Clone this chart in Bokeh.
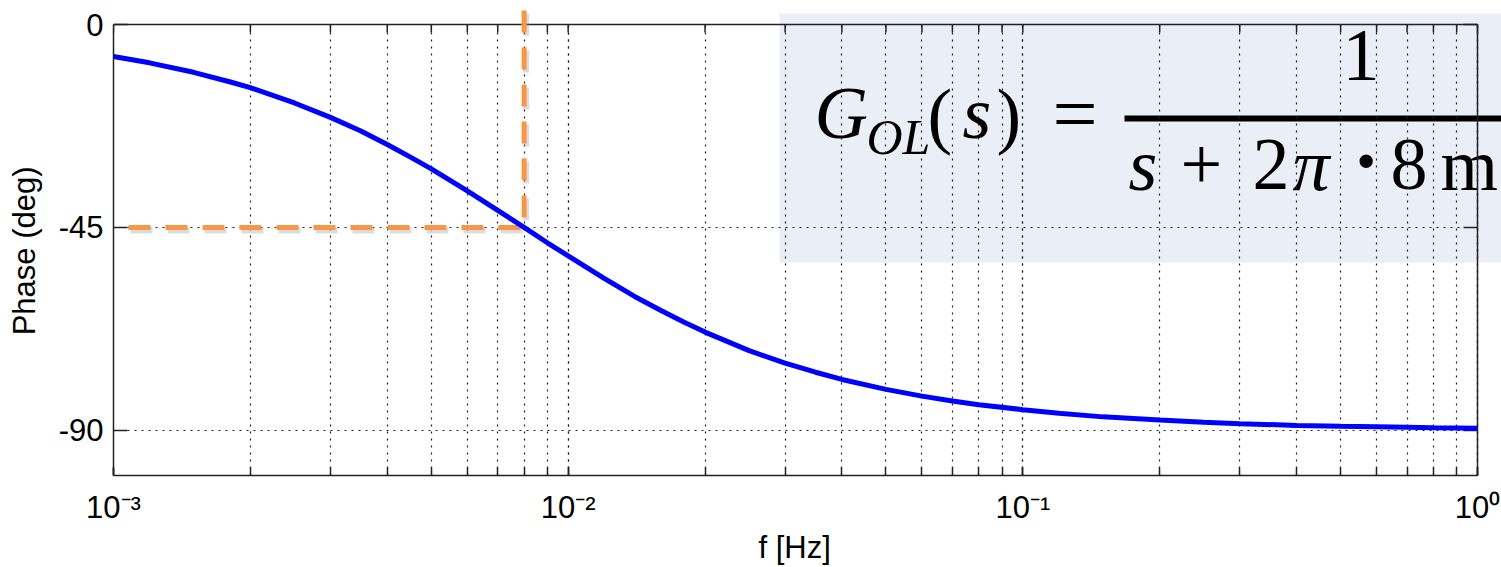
from bokeh.plotting import figure
from bokeh.models import (Range1d, FixedTicker, LogTicker, CustomJSTickFormatter,
                          BoxAnnotation, Label)
from bokeh.embed import file_html
from bokeh.resources import INLINE

# ---------------- data ----------------
freq_hz = [0.001, 0.0012, 0.0015, 0.0018, 0.002, 0.0025, 0.003, 0.0035, 0.004,
           0.0045, 0.005, 0.006, 0.007, 0.008, 0.009, 0.01, 0.012, 0.014, 0.016,
           0.018, 0.02, 0.025, 0.03, 0.035, 0.04, 0.05, 0.06, 0.07, 0.08, 0.1,
           0.12, 0.15, 0.2, 0.25, 0.3, 0.4, 0.5, 0.6, 0.7, 0.8, 1.0]
phase_deg = [-7.1, -8.5, -10.6, -12.7, -14.0, -17.4, -20.6, -23.6, -26.6,
             -29.4, -32.0, -36.9, -41.2, -45.0, -48.4, -51.3, -56.3, -60.3, -63.4,
             -66.0, -68.2, -72.3, -75.1, -77.1, -78.7, -80.9, -82.4, -83.5, -84.3, -85.4,
             -86.2, -87.0, -87.7, -88.2, -88.5, -88.9, -89.1, -89.2, -89.3, -89.4, -89.5]
y_ticks = [-90, -45, 0]
x_decades = [-3, -2, -1]
x_limits = (1e-3, 1.0)
y_limits = (-100, 0)
corner_freq = 0.008
corner_phase = -45

# ---------------- layout geometry (pixels) ----------------
W, H = 1501, 567
FRAME_L, AX_R, AX_T, FRAME_B = 113, 1477, 24, 475
DEC_PX = (AX_R - FRAME_L) / 3.0
DEG_PX = (FRAME_B - AX_T) / 100.0


def px_x(px):
    return 10 ** (-3 + (px - FRAME_L) / DEC_PX)


def px_y(py):
    return -(py - AX_T) / DEG_PX


x_end = px_x(W)
y_top = px_y(0)

p = figure(width=W, height=H, x_axis_type="log",
           x_range=Range1d(x_limits[0], x_end), y_range=Range1d(y_limits[0], y_top),
           output_backend="svg", toolbar_location=None,
           min_border_left=FRAME_L, min_border_right=0, min_border_top=0,
           min_border_bottom=H - FRAME_B)
p.outline_line_color = None
p.background_fill_color = "white"
p.border_fill_color = "white"

FONT = "Liberation Sans"
AX_COLOR = "#222222"
NBSP = "\u00a0"

# x axis
xa = p.xaxis[0]
xa.bounds = x_limits
xa.ticker = LogTicker(num_minor_ticks=10)
xa.formatter = CustomJSTickFormatter(code="""
const e = Math.round(Math.log10(tick));
const sup = {"-": "\\u207b", "0": "\\u2070", "1": "\\u00b9", "2": "\\u00b2", "3": "\\u00b3"};
return "10" + String(e).split("").map(c => sup[c]).join("");
""")
xa.axis_label = "f [Hz]" + NBSP * 3
xa.major_tick_in = 8
xa.major_tick_out = 0
xa.minor_tick_in = 8
xa.minor_tick_out = 0
xa.major_label_standoff = 14
xa.axis_label_standoff = 2

# y axis
ya = p.yaxis[0]
ya.bounds = y_limits
ya.ticker = FixedTicker(ticks=y_ticks)
ya.formatter = CustomJSTickFormatter(code="return String(Math.round(tick));")
ya.axis_label = "Phase (deg)" + NBSP * 3
ya.major_tick_in = 14
ya.major_tick_out = 0
ya.minor_tick_line_color = None
ya.major_label_standoff = 10
ya.axis_label_standoff = 14

for ax in (xa, ya):
    ax.axis_line_color = AX_COLOR
    ax.axis_line_width = 1.5
    ax.major_tick_line_color = AX_COLOR
    ax.major_tick_line_width = 1.5
    ax.minor_tick_line_color = AX_COLOR if ax is xa else None
    ax.minor_tick_line_width = 1.5
    ax.major_label_text_font = FONT
    ax.major_label_text_font_size = "31px"
    ax.major_label_text_color = "black"
    ax.axis_label_text_font = FONT
    ax.axis_label_text_font_size = "31px"
    ax.axis_label_text_font_style = "normal"
    ax.axis_label_text_color = "black"

# grids (dotted, MATLAB style), limited to the axes box
GRID_COLOR = "#222222"
p.xgrid.grid_line_color = GRID_COLOR
p.xgrid.grid_line_dash = "2 5"
p.xgrid.grid_line_width = 1.2
p.xgrid.minor_grid_line_color = GRID_COLOR
p.xgrid.minor_grid_line_dash = "2 5"
p.xgrid.minor_grid_line_width = 1.2
p.xgrid.cross_bounds = y_limits
p.ygrid.grid_line_color = GRID_COLOR
p.ygrid.grid_line_dash = "2 5"
p.ygrid.grid_line_width = 1.2
p.ygrid.cross_bounds = x_limits

# formula background box (beneath the grid)
p.add_layout(BoxAnnotation(left=px_x(779), right=px_x(1600), top=px_y(13), bottom=px_y(262),
                           fill_color="#EAEEF6", fill_alpha=1.0, line_color=None,
                           level="image"))

# formula text (baseline correction for label rendering: 0.375 em)
SERIF = "Liberation Serif"
pieces = [
    ("G", 814, 140, 74, "italic"),
    ("OL", 866, 155, 50, "italic"),
    ("(", 927, 142, 74, "normal"),
    ("s", 962, 140, 74, "italic"),
    (")", 996, 142, 74, "normal"),
    ("=", 1052, 143, 80, "normal"),
    ("1", 1342, 83, 74, "normal"),
    ("s", 1128, 192, 74, "italic"),
    ("+", 1180, 192, 74, "normal"),
    ("2", 1252, 192, 74, "normal"),
    ("\u03c0", 1292, 192, 74, "italic"),
    ("\u00b7", 1352, 192, 82, "bold"),
    ("8", 1390, 192, 74, "normal"),
    ("m", 1440, 192, 74, "normal"),
]
for txt, lx, by, fs, style in pieces:
    p.add_layout(Label(x=px_x(lx), y=px_y(by - 0.375 * fs), text=txt, text_font=SERIF,
                       text_font_size=f"{fs}px", text_font_style=style,
                       text_color="black", text_baseline="alphabetic",
                       text_align="left", level="image"))
# fraction bar
p.add_layout(BoxAnnotation(left=px_x(1124), right=px_x(1600), top=px_y(115), bottom=px_y(121),
                           fill_color="black", fill_alpha=1.0, line_color=None,
                           level="image"))

# top and right borders of the axes box, with mirrored inward ticks
p.line(x=[x_limits[0], x_limits[1], x_limits[1]], y=[y_limits[1], y_limits[1], y_limits[0]],
       line_color=AX_COLOR, line_width=1.5)
top_tick_x = [m * 10.0 ** e for e in x_decades for m in range(1, 10)] + [x_limits[1]]
p.segment(x0=top_tick_x, y0=[y_limits[1]] * len(top_tick_x),
          x1=top_tick_x, y1=[y_limits[1] - 8 / DEG_PX] * len(top_tick_x),
          line_color=AX_COLOR, line_width=1.5)
right_tick_y = [t for t in y_ticks if t > y_limits[0]]
p.segment(x0=[x_limits[1]] * len(right_tick_y), y0=right_tick_y,
          x1=[x_limits[1] / 10 ** (14 / DEC_PX)] * len(right_tick_y), y1=right_tick_y,
          line_color=AX_COLOR, line_width=1.5)

# orange -45 deg markers (with a soft drop shadow)
ORANGE = "#F79646"
sx = 10 ** (2 / DEC_PX)
sy = 3 / DEG_PX
p.line(x=[x_limits[0] * sx, corner_freq * sx], y=[corner_phase - sy, corner_phase - sy],
       line_color="#9a9a9a", line_alpha=0.35, line_width=6, line_dash="22 15", line_dash_offset=22)
p.line(x=[corner_freq * sx, corner_freq * sx], y=[y_top - sy, corner_phase - sy],
       line_color="#9a9a9a", line_alpha=0.35, line_width=6, line_dash="22 15", line_dash_offset=27)
p.line(x=[x_limits[0], corner_freq], y=[corner_phase, corner_phase],
       line_color=ORANGE, line_width=5, line_dash="22 15", line_dash_offset=22)
p.line(x=[corner_freq, corner_freq], y=[y_top, corner_phase],
       line_color=ORANGE, line_width=5, line_dash="22 15", line_dash_offset=27)

# phase curve
p.line(x=freq_hz, y=phase_deg, line_color="#0000FF", line_width=5)

open("out.html", "w", encoding="utf-8").write(file_html(p, INLINE))
